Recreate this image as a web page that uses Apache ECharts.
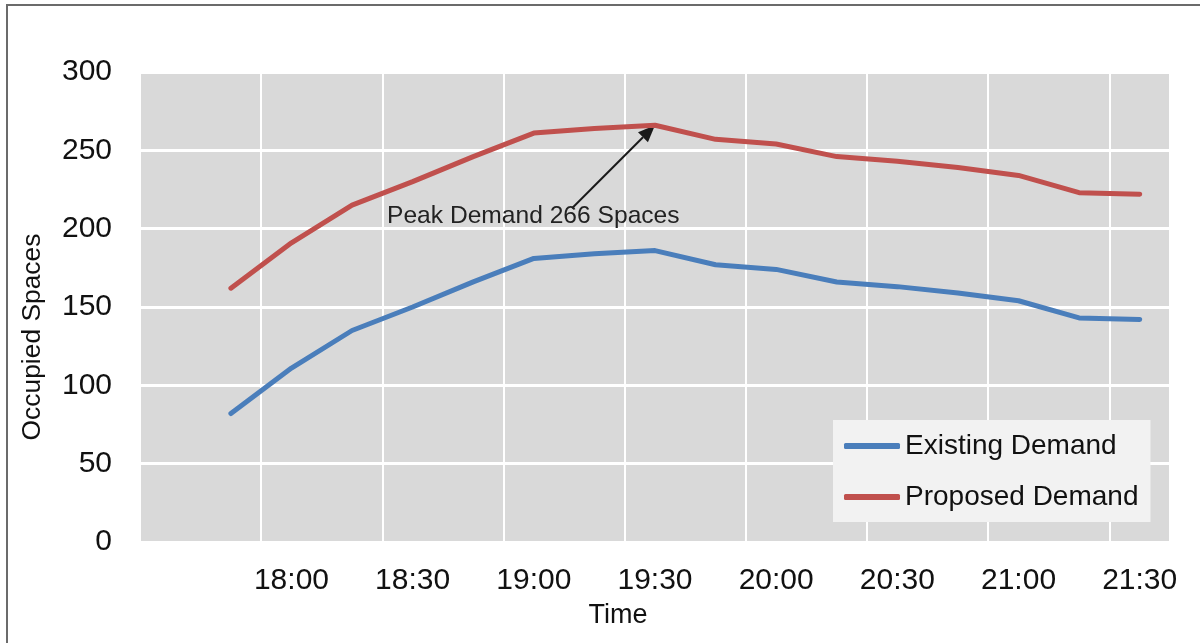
<!DOCTYPE html>
<html><head><meta charset="utf-8">
<script src="https://cdn.jsdelivr.net/npm/echarts@6/dist/echarts.min.js"></script>
<style>html,body{margin:0;padding:0;background:#fff}#c{width:1200px;height:643px}</style>
</head><body><div id="c"></div>
<script>
const categories = ['17:30','17:45','18:00','18:15','18:30','18:45','19:00','19:15','19:30','19:45','20:00','20:15','20:30','20:45','21:00','21:15','21:30'];
const existingDemand = [null,82,111,135,150,166,181,184,186,177,174,166,163,159,154,143,142];
const proposedDemand = [null,162,191,215,230,246,261,264,266,257,254,246,243,239,234,223,222];
const yMin = 0, yMax = 300, yStep = 50;
const seriesNames = ['Existing Demand','Proposed Demand'];

const FONT = '"Liberation Sans", Arial, sans-serif';
const TXT = '#111111';
const chart = echarts.init(document.getElementById('c'), null, {renderer:'canvas'});
chart.setOption({
  animation:false,
  backgroundColor:'#ffffff',
  grid:{left:140, right:30, top:72, bottom:101, show:true, backgroundColor:'#d9d9d9', borderWidth:0},
  legend:{
    orient:'vertical', left:833, top:420,
    backgroundColor:'#f2f2f2', padding:[12,12,11,11], itemGap:23,
    icon:'roundRect', itemWidth:56, itemHeight:6,
    textStyle:{fontSize:28, fontFamily:FONT, color:TXT},
    data:seriesNames
  },
  xAxis:{
    type:'category', data:categories, boundaryGap:true,
    axisLine:{show:false}, axisTick:{show:false},
    axisLabel:{interval:(i)=> i>0 && i%2===0, fontSize:30, fontFamily:FONT, color:TXT, margin:24},
    splitLine:{show:true, interval:(i)=> i%2===0, lineStyle:{color:'#ffffff', width:2}}
  },
  yAxis:{
    type:'value', min:yMin, max:yMax, interval:yStep,
    axisLine:{show:false}, axisTick:{show:false},
    axisLabel:{fontSize:30, fontFamily:FONT, color:TXT, margin:28},
    splitLine:{show:true, lineStyle:{color:'#ffffff', width:3}}
  },
  series:[
    {name:seriesNames[0], type:'line', data:existingDemand, symbol:'none', showSymbol:false,
     itemStyle:{color:'#4a7ebb'}, lineStyle:{color:'#4a7ebb', width:5, cap:'round', join:'round'}},
    {name:seriesNames[1], type:'line', data:proposedDemand, symbol:'none', showSymbol:false,
     itemStyle:{color:'#c0504d'}, lineStyle:{color:'#c0504d', width:5, cap:'round', join:'round'}}
  ]
});

const vals = proposedDemand.filter(v=>v!=null);
const peak = Math.max(...vals);
const peakIdx = proposedDemand.indexOf(peak);
const p = chart.convertToPixel({gridIndex:0}, [peakIdx, peak]);
const tip = [p[0], p[1]];
const start = [p[0]-83, p[1]+83];
const dx = tip[0]-start[0], dy = tip[1]-start[1], L = Math.hypot(dx,dy);
const ux = dx/L, uy = dy/L, nx = -uy, ny = ux;
const hl = 17, hw = 7;
const base = [tip[0]-ux*hl, tip[1]-uy*hl];

chart.setOption({
  graphic:[
    {type:'rect', shape:{x:7, y:5, width:1260, height:720}, style:{fill:null, stroke:'#6b6b6b', lineWidth:2}, silent:true},
    {type:'line', shape:{x1:start[0], y1:start[1], x2:base[0], y2:base[1]}, style:{stroke:'#1a1a1a', lineWidth:2}},
    {type:'polygon', shape:{points:[tip, [base[0]+nx*hw, base[1]+ny*hw], [base[0]-nx*hw, base[1]-ny*hw]]}, style:{fill:'#1a1a1a'}},
    {type:'text', x:p[0]-268, y:p[1]+91, style:{text:'Peak Demand ' + peak + ' Spaces', fontSize:24.6, fontFamily:FONT, fill:'#222222', align:'left', verticalAlign:'middle'}},
    {type:'text', x:33, y:337, rotation:Math.PI/2, style:{text:'Occupied Spaces', fontSize:26.4, fontFamily:FONT, fill:TXT, align:'center', verticalAlign:'middle'}},
    {type:'text', x:618, y:616, style:{text:'Time', fontSize:27, fontFamily:FONT, fill:TXT, align:'center', verticalAlign:'middle'}}
  ]
});
</script></body></html>
